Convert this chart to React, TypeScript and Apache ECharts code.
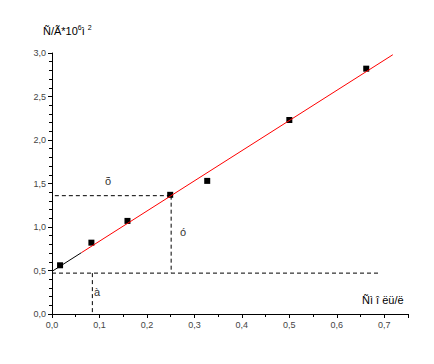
import React, { useEffect, useRef } from "react";
import * as echarts from "echarts";

const points: [number, number][] = [
  [0.017, 0.56],
  [0.083, 0.82],
  [0.159, 1.07],
  [0.249, 1.37],
  [0.327, 1.53],
  [0.5, 2.23],
  [0.662, 2.82],
];
const fitRed: [number, number][] = [
  [0.062, 0.705],
  [0.718, 2.98],
];
const fitBlack: [number, number][] = [
  [0, 0.49],
  [0.062, 0.705],
];
const dashTop: [number, number][] = [
  [0.006, 1.36],
  [0.251, 1.36],
];
const dashBottom: [number, number][] = [
  [0, 0.47],
  [0.687, 0.47],
];
const dashMid: [number, number][] = [
  [0.251, 1.36],
  [0.251, 0.47],
];
const dashLeft: [number, number][] = [
  [0.085, 0.47],
  [0.085, 0],
];
const noteX = [0.118, 0.276, 0.095];
const noteY = [1.53, 0.94, 0.25];
const noteText = ["õ", "ó", "à"];

const FONT = "'Liberation Sans', Arial, sans-serif";

export default function App() {
  const ref = useRef<HTMLDivElement>(null);
  useEffect(() => {
    if (!ref.current) return;
    const chart = echarts.init(ref.current, null, { renderer: "svg" });
    const dashed = (data: [number, number][]) => ({
      type: "line",
      data,
      symbol: "none",
      silent: true,
      lineStyle: { color: "#000", width: 1, type: [4, 3] },
    });
    chart.setOption({
      animation: false,
      backgroundColor: "#fff",
      grid: { left: 52, top: 53, right: 26, bottom: 50 },
      xAxis: {
        type: "value",
        min: 0,
        max: 0.75,
        interval: 0.1,
        axisLine: { lineStyle: { color: "#000", width: 1 } },
        axisTick: { length: 4, lineStyle: { color: "#000" } },
        minorTick: { show: true, splitNumber: 2, length: 3, lineStyle: { color: "#000" } },
        splitLine: { show: false },
        axisLabel: {
          color: "#444",
          fontSize: 9,
          fontFamily: FONT,
          margin: 6,
          showMaxLabel: false,
          formatter: (v: number) => v.toFixed(1).replace(".", ","),
        },
      },
      yAxis: {
        type: "value",
        min: 0,
        max: 3,
        interval: 0.5,
        axisLine: { show: true, lineStyle: { color: "#000", width: 1 } },
        axisTick: { show: true, length: 4, lineStyle: { color: "#000" } },
        minorTick: { show: true, splitNumber: 5, length: 3, lineStyle: { color: "#000" } },
        splitLine: { show: false },
        axisLabel: {
          color: "#444",
          fontSize: 9,
          fontFamily: FONT,
          margin: 6,
          formatter: (v: number) => v.toFixed(1).replace(".", ","),
        },
      },
      series: [
        dashed(dashTop),
        dashed(dashBottom),
        dashed(dashMid),
        dashed(dashLeft),
        {
          type: "line",
          data: fitBlack,
          symbol: "none",
          lineStyle: { color: "#000", width: 1 },
        },
        {
          type: "line",
          data: fitRed,
          symbol: "none",
          lineStyle: { color: "#ff0000", width: 1 },
        },
        {
          type: "scatter",
          data: points,
          symbol: "rect",
          symbolSize: 6,
          itemStyle: { color: "#000", opacity: 1 },
        },
        {
          type: "custom",
          data: noteX.map((x, i) => [x, noteY[i], i]),
          renderItem: (_params: any, api: any) => {
            const pt = api.coord([api.value(0), api.value(1)]);
            const idx = api.value(2);
            return {
              type: "text",
              x: pt[0],
              y: pt[1],
              style: {
                text: noteText[idx],
                fill: "#333",
                fontSize: 11,
                fontFamily: FONT,
                align: "center",
                verticalAlign: "middle",
              },
            };
          },
        },
      ],
      graphic: [
        {
          type: "text",
          left: 43,
          top: 24,
          style: {
            text: "{a|Ñ/Ã*10}{s|6}{a|ì }{s|2}",
            rich: {
              a: { fontSize: 11, fontFamily: FONT, fill: "#000" },
              s: { fontSize: 7, fontFamily: FONT, fill: "#000", verticalAlign: "top", padding: [0, 0, 6, 0] },
            },
          },
        },
        {
          type: "text",
          left: 362,
          top: 294,
          style: {
            text: "Ñì î ëü/ë",
            fontSize: 11,
            fontFamily: FONT,
            fill: "#000",
          },
        },
      ],
    });
    return () => chart.dispose();
  }, []);
  return (
    <div
      ref={ref}
      style={{ position: "fixed", left: 0, top: 0, width: 434, height: 364 }}
    />
  );
}
